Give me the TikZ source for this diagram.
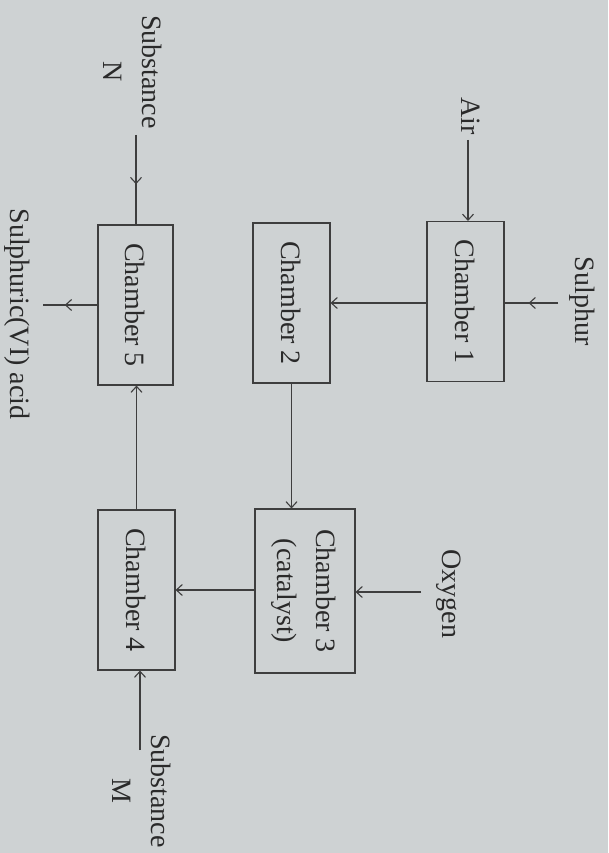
\documentclass[tikz,border=0pt]{standalone}
\usepackage{fontspec}
\setmainfont{Liberation Serif}
\usetikzlibrary{decorations.markings,arrows.meta}
\definecolor{bgc}{RGB}{206,210,211}
\definecolor{linec}{RGB}{62,62,62}
\definecolor{txtc}{RGB}{42,42,42}
\newcommand\rotlbl[1]{\rotatebox{-90}{#1}}
\newcommand\twolines[2]{\begin{tabular}{@{}c@{}}#1\\#2\end{tabular}}
\begin{document}
\begin{tikzpicture}[x=1pt,y=-1pt,
  font=\fontsize{28pt}{39pt}\selectfont,
  box/.style={draw=linec, line width=1.1pt, minimum width=77pt, minimum height=160pt, inner sep=0pt, text=txtc},
  lbl/.style={inner sep=0pt, text=txtc},
  flow/.style={draw=linec, line width=1.1pt, -{Straight Barb[length=6pt,width=11pt]}},
  midflow/.style={draw=linec, line width=1.1pt, postaction={decorate},
    decoration={markings, mark=at position #1 with {\arrow{Straight Barb[length=6pt,width=11pt]}}}},
]
\fill[bgc] (0,0) rectangle (608,853);
\useasboundingbox (0,0) rectangle (608,853);

% chambers
\node[box] (c1) at (465.5,301.5) {\rotlbl{Chamber 1}};
\node[box] (c2) at (291.5,303) {\rotlbl{Chamber 2}};
\node[box, minimum width=100pt, minimum height=164pt] (c3) at (305,591) {\rotlbl{\twolines{Chamber 3}{(catalyst)}}};
\node[box] (c4) at (136.5,590) {\rotlbl{Chamber 4}};
\node[box, minimum width=75pt] (c5) at (135.5,305) {\rotlbl{Chamber 5}};

% labels
\node[lbl] (air) at (471,116) {\rotlbl{Air}};
\node[lbl] (sul) at (582,301) {\rotlbl{Sulphur}};
\node[lbl] (oxy) at (449,594) {\rotlbl{Oxygen}};
\node[lbl] (subm) at (140,791) {\rotlbl{\twolines{Substance}{M}}};
\node[lbl] (subn) at (131,72) {\rotlbl{\twolines{Substance}{N}}};
\node[lbl] (acid) at (17,314) {\rotlbl{Sulphuric(VI) acid}};

% free ends
\coordinate (airend) at (468,140);
\coordinate (sulend) at (558,303);
\coordinate (oxyend) at (421,592);
\coordinate (mend) at (140,750);
\coordinate (nend) at (136,135);
\coordinate (acidend) at (43,305);

% connectors
\draw[flow] (airend) -- (airend |- c1.north);
\draw[midflow=0.55] (sulend) -- (sulend -| c1.east);
\draw[flow] (c1.west |- c2.east) -- (c2.east);
\draw[flow] (c2.south) -- (c2.south |- c3.north);
\draw[flow] (oxyend) -- (oxyend -| c3.east);
\draw[flow] (c3.west |- c4.east) -- (c4.east);
\draw[flow] (mend) -- (mend |- c4.south);
\draw[flow] (c4.north) -- (c4.north |- c5.south);
\draw[midflow=0.55] (nend) -- (nend |- c5.north);
\draw[midflow=0.6] (c5.west |- acidend) -- (acidend);
\end{tikzpicture}
\end{document}
